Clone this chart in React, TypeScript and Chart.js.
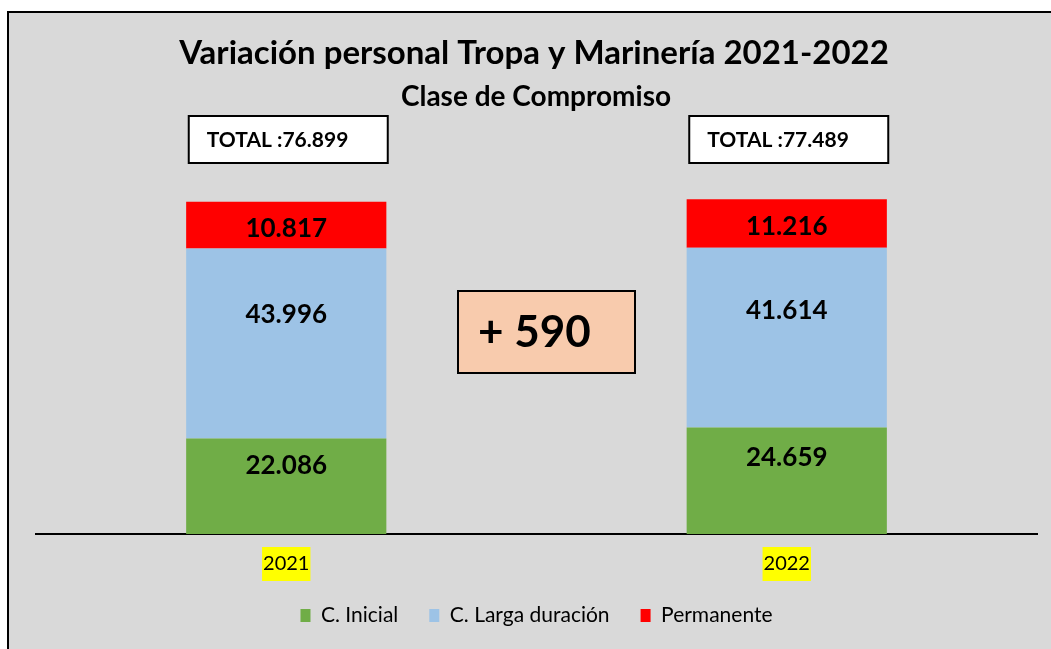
import React, { useEffect, useRef } from "react";
import { Chart, registerables } from "chart.js";

Chart.register(...registerables);

const categories = ["2021", "2022"];
const seriesNames = ["C. Inicial", "C. Larga duración", "Permanente"];
const inicial = [22086, 24659];
const largaDuracion = [43996, 41614];
const permanente = [10817, 11216];
const titleText = "Variación personal Tropa y Marinería 2021-2022";
const subtitleText = "Clase de Compromiso";
const totalPrefix = "TOTAL :";

const seriesColors = ["#70ad47", "#9dc3e6", "#ff0000"];
const labelAnchor = [0.285, 0.35, 0.5];
const labelShift = [0, 0, 3];

const fmt = (n: number) => String(n).replace(/\B(?=(\d{3})+(?!\d))/g, ".");
const totals = categories.map((_, i) => inicial[i] + largaDuracion[i] + permanente[i]);
const diff = totals[totals.length - 1] - totals[0];

const FONT = "Lato";

const framePlugin = {
  id: "frame",
  beforeDraw(chart: any) {
    const { ctx, width, height } = chart;
    ctx.save();
    ctx.fillStyle = "#ffffff";
    ctx.fillRect(0, 0, width, height);
    ctx.fillStyle = "#d9d9d9";
    ctx.fillRect(8, 12, width, height);
    ctx.strokeStyle = "#000000";
    ctx.lineWidth = 2;
    ctx.strokeRect(8, 12, width + 20, height + 20);
    ctx.restore();
  },
};

const legendShiftPlugin = {
  id: "legendShift",
  afterLayout(chart: any) {
    const lg = chart.legend;
    if (!lg) return;
    const target = chart.chartArea.bottom + 40;
    const dy = target - lg.top;
    lg.top += dy;
    lg.bottom += dy;
  },
};

const annotationsPlugin = {
  id: "annotations",
  afterDatasetsDraw(chart: any) {
    const { ctx, chartArea } = chart;
    ctx.save();
    // segment labels
    chart.data.datasets.forEach((ds: any, di: number) => {
      const meta = chart.getDatasetMeta(di);
      meta.data.forEach((bar: any, i: number) => {
        const top = bar.y;
        const bottom = bar.base;
        const y = top + (bottom - top) * labelAnchor[di] + labelShift[di];
        ctx.font = `bold 26px ${FONT}`;
        ctx.fillStyle = "#000";
        ctx.textAlign = "center";
        ctx.textBaseline = "middle";
        ctx.fillText(fmt(ds.data[i]), bar.x, y);
      });
    });
    // total boxes
    const meta0 = chart.getDatasetMeta(0);
    meta0.data.forEach((bar: any, i: number) => {
      const w = 199;
      const h = 47;
      const x0 = bar.x - w / 2 + 2;
      const y0 = chartArea.top + 14;
      ctx.fillStyle = "#ffffff";
      ctx.fillRect(x0, y0, w, h);
      ctx.strokeStyle = "#000";
      ctx.lineWidth = 2;
      ctx.strokeRect(x0, y0, w, h);
      ctx.font = `bold 21px ${FONT}`;
      ctx.fillStyle = "#000";
      ctx.textAlign = "left";
      ctx.textBaseline = "middle";
      ctx.fillText(totalPrefix + fmt(totals[i]), x0 + 18, y0 + h / 2 + 1);
    });
    // difference box
    const b0 = meta0.data[0];
    const b1 = meta0.data[meta0.data.length - 1];
    const cx = (b0.x + b1.x) / 2 + 10;
    const w = 177;
    const h = 82;
    const x0 = cx - w / 2;
    const y0 = chartArea.top + 189;
    ctx.fillStyle = "#f8cbad";
    ctx.fillRect(x0, y0, w, h);
    ctx.strokeStyle = "#000";
    ctx.lineWidth = 2;
    ctx.strokeRect(x0, y0, w, h);
    ctx.font = `bold 44px ${FONT}`;
    ctx.fillStyle = "#000";
    ctx.textAlign = "left";
    ctx.textBaseline = "middle";
    ctx.fillText((diff >= 0 ? "+ " : "- ") + fmt(Math.abs(diff)), x0 + 20, y0 + h / 2 + 1);
    ctx.restore();
  },
  afterDraw(chart: any) {
    const { ctx } = chart;
    ctx.save();
    ctx.fillStyle = "#000";
    ctx.textAlign = "center";
    ctx.textBaseline = "alphabetic";
    ctx.font = `bold 33px ${FONT}`;
    ctx.fillText(titleText, 534, 64, 712);
    ctx.font = `bold 28px ${FONT}`;
    ctx.fillText(subtitleText, 536, 106, 272);
    ctx.restore();
  },
};

export default function App() {
  const canvasRef = useRef<HTMLCanvasElement | null>(null);

  useEffect(() => {
    document.body.style.margin = "0";
    const canvas = canvasRef.current;
    if (!canvas) return;
    const seriesData = [inicial, largaDuracion, permanente];
    const chart = new Chart(canvas, {
      type: "bar",
      data: {
        labels: categories,
        datasets: seriesData.map((d, i) => ({
          label: seriesNames[i],
          data: d,
          backgroundColor: seriesColors[i],
          borderWidth: 0,
          barPercentage: 0.8,
          categoryPercentage: 0.5,
        })),
      },
      options: {
        responsive: false,
        animation: false,
        devicePixelRatio: 1,
        layout: { padding: { left: 36, right: 14, top: 102, bottom: 0 } },
        scales: {
          x: {
            stacked: true,
            grid: { display: false, drawTicks: false },
            border: { color: "#000", width: 2 },
            ticks: {
              color: "#000",
              font: { family: FONT, size: 20 },
              padding: 18,
              showLabelBackdrop: true,
              backdropColor: "#ffff00",
              backdropPadding: { top: 5, bottom: 5, left: 1, right: 1 },
            },
          },
          y: { stacked: true, display: false, min: 0, max: 100000 },
        },
        plugins: {
          legend: {
            position: "bottom",
            maxHeight: 55,
            labels: {
              boxWidth: 10,
              boxHeight: 13,
              color: "#000",
              font: { family: FONT, size: 21 },
              padding: 31,
            },
          },
          title: { display: false },
          tooltip: { enabled: false },
        },
      },
      plugins: [framePlugin, legendShiftPlugin, annotationsPlugin],
    } as any);
    return () => chart.destroy();
  }, []);

  return (
    <div style={{ width: 1051, height: 649 }}>
      <canvas ref={canvasRef} width={1051} height={649} />
    </div>
  );
}
